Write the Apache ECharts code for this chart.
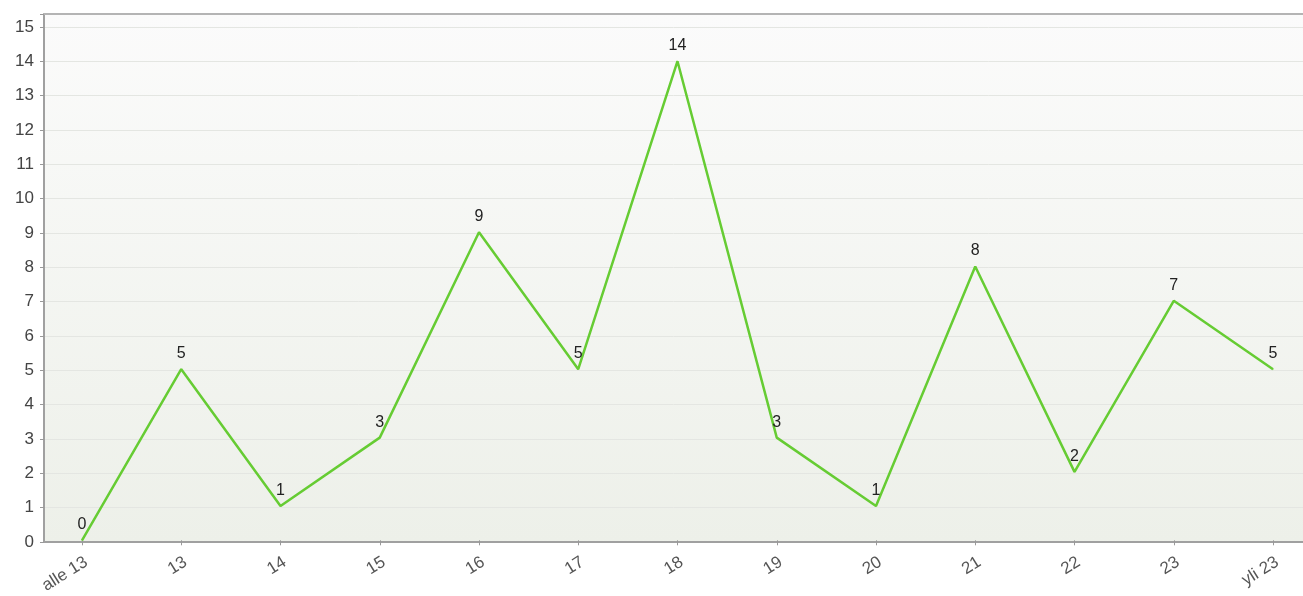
<!DOCTYPE html>
<html><head><meta charset="utf-8">
<script src="https://cdn.jsdelivr.net/npm/echarts@6/dist/echarts.min.js"></script>
<style>html,body{margin:0;padding:0;background:#fff}#c{width:1303px;height:596px}</style>
</head><body><div id="c"></div>
<script>
const categories = ["alle 13","13","14","15","16","17","18","19","20","21","22","23","yli 23"];
const values = [0,5,1,3,9,5,14,3,1,8,2,7,5];
const yMin = 0, yMax = 15.38, yInterval = 1;

const chart = echarts.init(document.getElementById('c'));
const font = 'Liberation Sans, Arial, sans-serif';
chart.setOption({
  animation: false,
  grid: [
    {left: 44, right: 0, top: 14, bottom: 54, show: true, borderWidth: 0,
     backgroundColor: {type:'linear', x:0, y:0, x2:0, y2:1,
       colorStops:[{offset:0,color:'#fbfbfb'},{offset:1,color:'#edf0e9'}]}},
    {left: 82, right: 30, top: 14, bottom: 54}
  ],
  xAxis: [
    {type:'value', gridIndex:0, min:0, max:1, position:'bottom',
     axisLine:{show:true, lineStyle:{color:'#a0a0a0', width:2}},
     axisTick:{show:false}, axisLabel:{show:false}, splitLine:{show:false}},
    {type:'value', gridIndex:0, min:0, max:1, position:'top',
     axisLine:{show:true, lineStyle:{color:'#b4b4b4', width:2}},
     axisTick:{show:false}, axisLabel:{show:false}, splitLine:{show:false}},
    {type:'category', gridIndex:1, data: categories, boundaryGap:false,
     axisLine:{show:false},
     axisTick:{show:true, length:5, lineStyle:{color:'#999'}},
     axisLabel:{rotate:32, color:'#555', fontSize:17, fontFamily:font, margin:23,
       padding:[0,-5,0,0], interval:0},
     splitLine:{show:false}}
  ],
  yAxis: [
    {type:'value', gridIndex:0, min:yMin, max:yMax, interval:yInterval,
     axisLine:{show:true, lineStyle:{color:'#a0a0a0', width:2}},
     axisTick:{show:true, length:4, lineStyle:{color:'#999'}},
     axisLabel:{color:'#444', fontSize:17, fontFamily:font, margin:10,
       formatter: v => Number.isInteger(v) ? String(v) : ''},
     splitLine:{show:true, lineStyle:{color:'#e4e6e2', width:1}}},
    {type:'value', gridIndex:1, min:yMin, max:yMax, interval:yInterval, show:false,
     splitLine:{show:false}}
  ],
  series: [{
    type:'line', xAxisIndex:2, yAxisIndex:1, data: values,
    symbol:'circle', symbolSize:1, showSymbol:true,
    itemStyle:{color:'#66cc33'},
    lineStyle:{color:'#66cc33', width:2.5},
    label:{show:true, position:'top', distance:7, color:'#222', fontSize:16, fontFamily:font}
  }]
});
</script></body></html>
